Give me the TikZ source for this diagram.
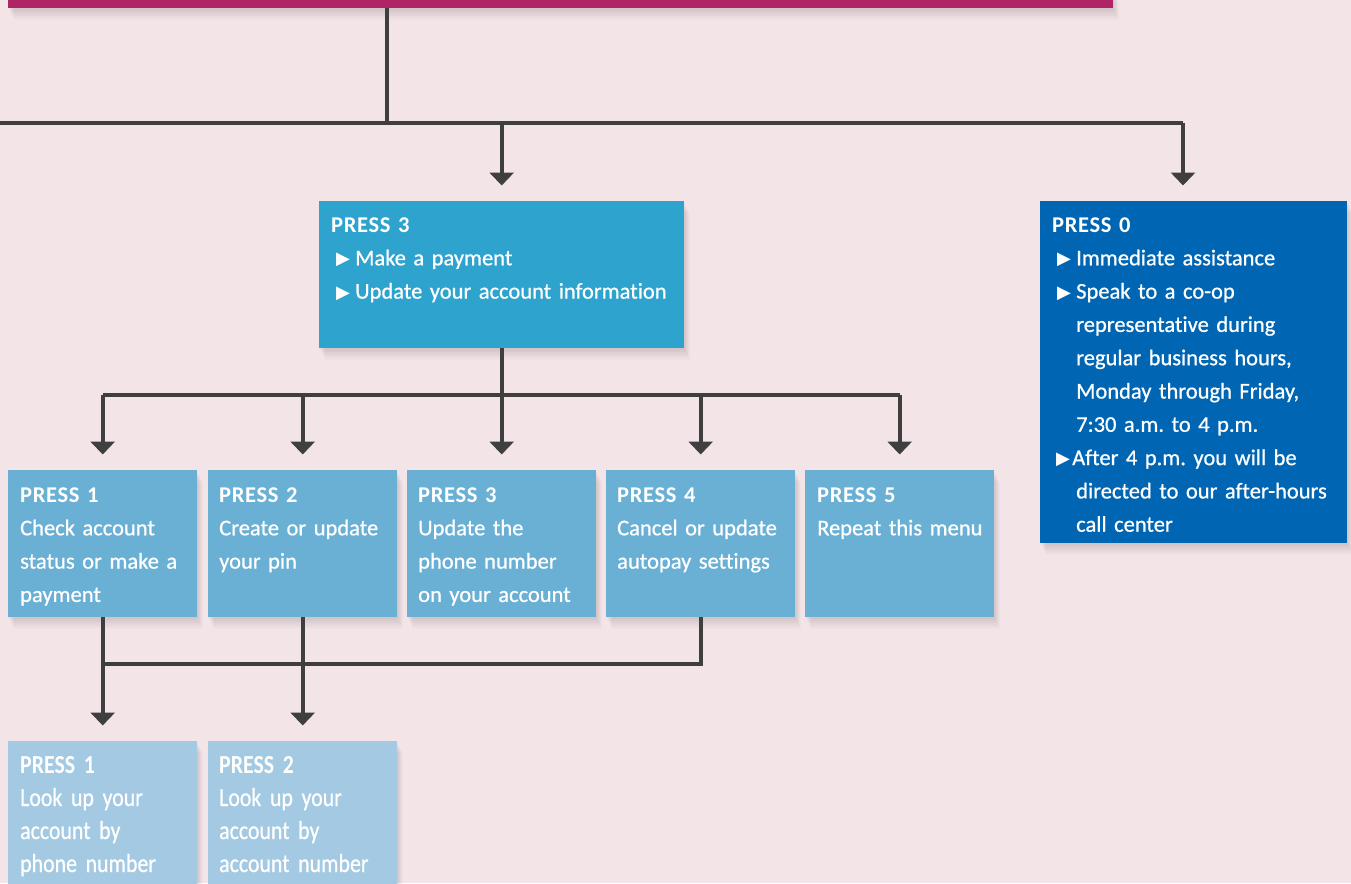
\documentclass[tikz,border=0pt]{standalone}
\usepackage{fontspec}
\setmainfont{Carlito}[Ligatures=NoCommon, UprightFeatures={FakeBold=0.7}, BoldFeatures={LetterSpace=3}]
\newfontfamily\trifont{DejaVu Sans}
\newfontfamily\condfont[FakeStretch=0.84,WordSpace=0.75,Ligatures=NoCommon,UprightFeatures={FakeBold=0.6}]{Carlito}
\usetikzlibrary{arrows.meta}
\definecolor{bgcol}{HTML}{F3E4E8}
\definecolor{barcol}{HTML}{AE2464}
\definecolor{linecol}{HTML}{3F3F3F}
\definecolor{topbox}{HTML}{2EA3CE}
\definecolor{zerobox}{HTML}{0066B3}
\definecolor{midbox}{HTML}{6AB0D5}
\definecolor{lowbox}{HTML}{A3CAE2}
\newcommand{\trisym}{{\trifont\fontsize{18}{18}\selectfont\raisebox{0.5pt}{▶}}}
\newcommand{\pbul}{\hspace*{5pt}\makebox[19pt][l]{\trisym}}
\newcommand{\pbultight}{\hspace*{4pt}\makebox[16pt][l]{\trisym}}
\newcommand{\pind}{\hspace*{24pt}}
\tikzset{
  softshadow/.style={
    preaction={fill=black, opacity=0.025, transform canvas={shift={(1pt,-2pt)}}},
    preaction={fill=black, opacity=0.025, transform canvas={shift={(2pt,-4pt)}}},
    preaction={fill=black, opacity=0.025, transform canvas={shift={(3pt,-6pt)}}},
    preaction={fill=black, opacity=0.025, transform canvas={shift={(4pt,-8pt)}}},
    preaction={fill=black, opacity=0.02, transform canvas={shift={(5pt,-10pt)}}},
    preaction={fill=black, opacity=0.015, transform canvas={shift={(6pt,-12pt)}}}},
  boxshape/.style={softshadow, fill=#1, draw=none, inner sep=0pt, anchor=north west},
  boxtext/.style={anchor=base west, inner sep=0pt, text width=420pt, align=left,
    text=white, font=\frenchspacing\fontsize{22.5}{33.3}\selectfont},
  condtext/.style={anchor=base west, inner sep=0pt, text width=250pt, align=left,
    text=white, font=\condfont\frenchspacing\fontsize{26}{33}\selectfont},
  conn/.style={draw=linecol, line width=4pt},
  arr/.style={conn, -{Triangle[width=24pt,length=13pt]}, shorten >=15.5pt}
}
\begin{document}
\begin{tikzpicture}[x=1pt,y=-1pt]
\useasboundingbox (0,0) rectangle (1351,883);
\clip (0,0) rectangle (1351,883);
\fill[bgcol] (0,0) rectangle (1351,883);
% top bar
\node[boxshape=barcol, minimum width=1105pt, minimum height=18pt] (bar) at (8,-10) {};
% boxes
\node[boxshape=topbox, minimum width=365pt, minimum height=147pt] (p3) at (319,201) {};
\node[boxshape=zerobox, minimum width=307pt, minimum height=342pt] (p0) at (1040,201) {};
\node[boxshape=midbox, minimum width=189pt, minimum height=147pt] (b1) at (8,470) {};
\node[boxshape=midbox, minimum width=189pt, minimum height=147pt] (b2) at (208,470) {};
\node[boxshape=midbox, minimum width=189pt, minimum height=147pt] (b3) at (407,470) {};
\node[boxshape=midbox, minimum width=189pt, minimum height=147pt] (b4) at (606,470) {};
\node[boxshape=midbox, minimum width=189pt, minimum height=147pt] (b5) at (805,470) {};
\node[boxshape=lowbox, minimum width=189pt, minimum height=170pt] (c1) at (8,741) {};
\node[boxshape=lowbox, minimum width=189pt, minimum height=170pt] (c2) at (208,741) {};
% texts
\node[boxtext] (t3) at (331,232) {\textbf{PRESS 3}\\
\pbul Make a payment\\
\pbul Update your account information};
\node[boxtext] (t0) at (1052,232) {\textbf{PRESS 0}\\
\pbul Immediate assistance\\
\pbul Speak to a co-op\\
\pind representative during\\
\pind regular business hours,\\
\pind Monday through Friday,\\
\pind 7:30 a.m. to 4 p.m.\\
\pbultight After 4 p.m. you will be\\
\pind directed to our after-hours\\
\pind call center};
\node[boxtext] (tb1) at (20,502) {\textbf{PRESS 1}\\Check account\\status or make a\\payment};
\node[boxtext] (tb2) at (219,502) {\textbf{PRESS 2}\\Create or update\\your pin};
\node[boxtext] (tb3) at (418,502) {\textbf{PRESS 3}\\Update the\\phone number\\on your account};
\node[boxtext] (tb4) at (617,502) {\textbf{PRESS 4}\\Cancel or update\\autopay settings};
\node[boxtext] (tb5) at (817,502) {\textbf{PRESS 5}\\Repeat this menu};
\node[condtext] (tc1) at (20,773) {\textbf{PRESS 1}\\Look up your\\account by\\phone number};
\node[condtext] (tc2) at (219,773) {\textbf{PRESS 2}\\Look up your\\account by\\account number};
% connectors
\coordinate (j0) at (387,123);
\coordinate (l0) at (0,123);
\coordinate (a0) at (1183,201);
\coordinate (j1) at (501,395);
\coordinate (j2) at (103,664);
\draw[conn] (bar.south -| j0) -- (j0);
\draw[conn] (l0) -- (a0 |- j0);
\draw[arr] (p3.north |- j0) -- (p3.north);
\draw[arr] (a0 |- j0) -- (a0);
\draw[conn] (p3.south) -- (p3.south |- j1);
\draw[conn] (b1.north |- j1) -- (b5.north |- j1);
\foreach \b in {b1,b2,b3,b4,b5}{
  \draw[arr] (\b.north |- j1) -- (\b.north);
}
\draw[conn] (b4.south) -- (b4.south |- j2) -- (b1.south |- j2);
\draw[arr] (b1.south) -- (c1.north);
\draw[arr] (b2.south) -- (c2.north);
\end{tikzpicture}
\end{document}
